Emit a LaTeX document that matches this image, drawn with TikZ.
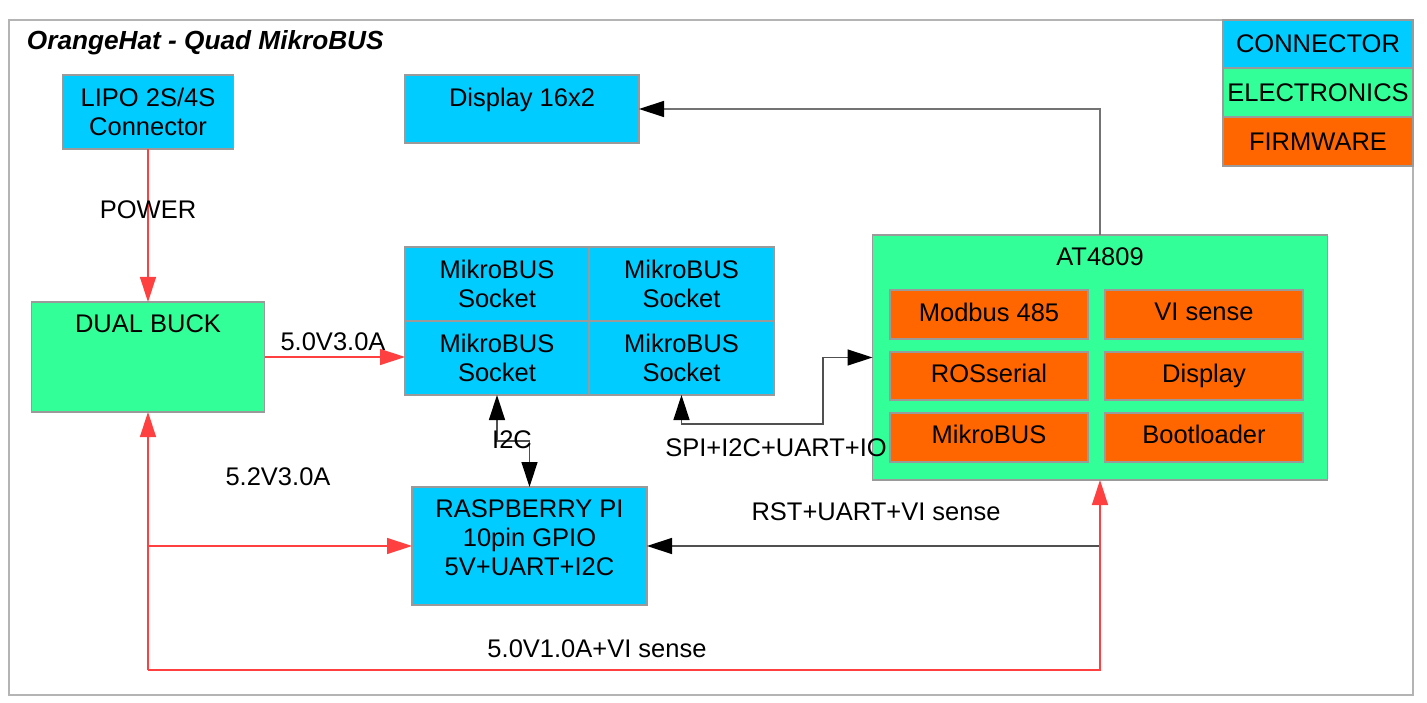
\documentclass[tikz,border=0pt]{standalone}
\usepackage{fontspec}
\setmainfont{Liberation Sans}
\usetikzlibrary{arrows.meta,calc}
\definecolor{conn}{HTML}{00CCFF}
\definecolor{elec}{HTML}{33FF99}
\definecolor{firm}{HTML}{FF6600}
\definecolor{redl}{HTML}{FF4040}
\definecolor{bord}{HTML}{9A9A9A}
\definecolor{framec}{HTML}{B4B4B4}
\definecolor{darkl}{HTML}{505050}
\tikzset{
  bt/.tip={Triangle[length=25pt,width=16pt,color=black]},
  rt/.tip={Triangle[length=25pt,width=16pt,color=redl]},
}
\begin{document}
\begin{tikzpicture}[x=1pt,y=-1pt,
  every node/.style={font=\fontsize{25.5}{29}\selectfont, inner sep=0pt, outer sep=0pt, text depth=0pt, align=center},
  box/.style n args={3}{draw=bord, line width=1.2pt, fill=#1, minimum width=#2, minimum height=#3},
  blk/.style={draw=darkl, line width=1.4pt},
  redw/.style={draw=redl, line width=1.4pt},
  gry/.style={draw=darkl!80, line width=1.4pt},
]
\useasboundingbox (0,0) rectangle (1427,703);
\fill[white] (0,0) rectangle (1427,703);
% frame
\draw[framec, line width=1.6pt] (9,20) rectangle (1413,695);
\node[anchor=base west, font=\fontsize{26.2}{29}\selectfont\bfseries\itshape] (title) at (27,50) {OrangeHat - Quad MikroBUS};

% legend
\node[box={conn}{190}{48}] (lg1) at (1318,44) {CONNECTOR};
\node[box={elec}{190}{49}] (lg2) at (1318,92.5) {ELECTRONICS};
\node[box={firm}{190}{49}] (lg3) at (1318,141.5) {FIRMWARE};

% connector boxes
\node[box={conn}{171}{74}] (lipo) at (148,112) {LIPO 2S/4S\\Connector};
\node[box={conn}{234}{68}] (disp) at (522,109) {};
\node (dispt) at (522,97) {Display 16x2};

% dual buck
\node[box={elec}{233}{110}] (buck) at (148,357) {};
\node (buckt) at (148,324) {DUAL BUCK};

% mikrobus grid
\node[box={conn}{184}{74}] (m11) at (497,284) {MikroBUS\\Socket};
\node[box={conn}{185}{74}] (m12) at (681.5,284) {MikroBUS\\Socket};
\node[box={conn}{184}{74}] (m21) at (497,358) {MikroBUS\\Socket};
\node[box={conn}{185}{74}] (m22) at (681.5,358) {MikroBUS\\Socket};

% AT4809
\node[box={elec}{455}{245}] (at) at (1100,357.5) {};
\node (att) at (1100,257) {AT4809};
\node[box={firm}{198}{49}] (f11) at (989,314.5) {};
\node[box={firm}{198}{49}] (f12) at (1204,314.5) {};
\node[box={firm}{198}{48}] (f21) at (989,376) {};
\node[box={firm}{198}{48}] (f22) at (1204,376) {};
\node[box={firm}{198}{49}] (f31) at (989,437.5) {};
\node[box={firm}{198}{49}] (f32) at (1204,437.5) {};
\node at ($(f11.center)+(0,-2.5)$) {Modbus 485};
\node at ($(f12.center)+(0,-2.5)$) {VI sense};
\node at ($(f21.center)+(0,-3)$) {ROSserial};
\node at ($(f22.center)+(0,-3)$) {Display};
\node at ($(f31.center)+(0,-3)$) {MikroBUS};
\node at ($(f32.center)+(0,-3)$) {Bootloader};

% raspberry pi
\node[box={conn}{235}{118}] (rpi) at (529.5,546) {};
\node (rpit) at (529.5,538) {RASPBERRY PI\\10pin GPIO\\5V+UART+I2C};

% coordinates
\coordinate (pl) at (148,670);
\coordinate (pr) at (1100,670);
\coordinate (i2c) at (512,441);
\coordinate (spic) at (823,424);

% connectors
\draw[redw,-rt] (lipo.south) -- (buck.north);
\node (power) at (148,210) {POWER};
\draw[redw,-rt] (buck.east) -- (buck.east -| m21.west);
\node (l50) at (333,342) {5.0V3.0A};
\draw[blk,bt-bt] (m21.south) |- (i2c) -| (rpi.north);
\node (li2c) at (512,440) {I2C};
\draw[blk,bt-bt] (m22.south) |- (spic) |- (at.west);
\node (lspi) at (776,448) {SPI+I2C+UART+IO};
\draw[gry,-bt] (at.north) |- (disp.east);
\draw[blk,-bt] (at.south |- rpi.east) -- (rpi.east);
\node (lrst) at (876,512) {RST+UART+VI sense};
\draw[redw,-rt] (pl) -- (buck.south);
\draw[redw,-rt] (pl |- rpi.west) -- (rpi.west);
\draw[redw,-rt] (pl) -- (pr) -- (at.south);
\node (l52) at (278,477) {5.2V3.0A};
\node (l501) at (597,649) {5.0V1.0A+VI sense};
\end{tikzpicture}
\end{document}
